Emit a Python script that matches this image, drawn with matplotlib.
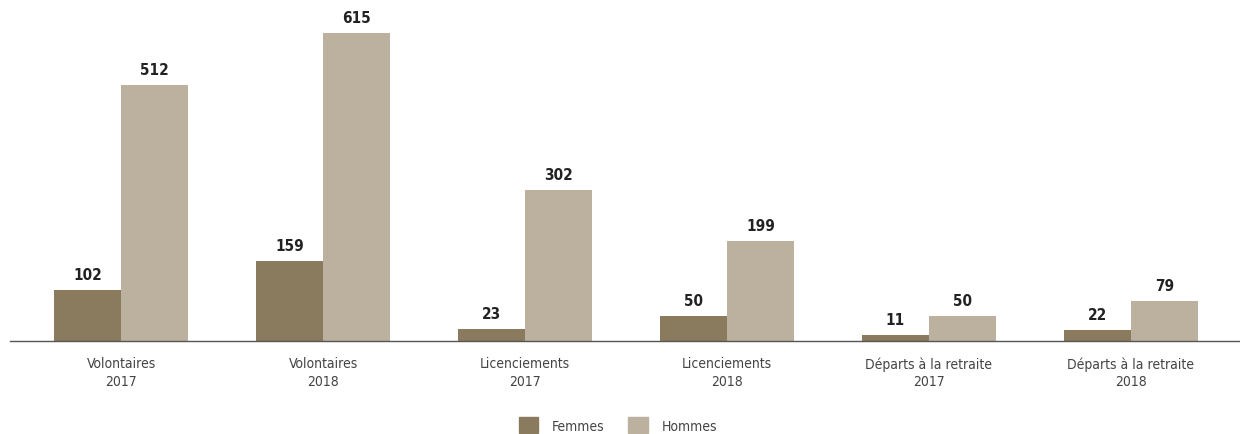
import numpy as np
import matplotlib
matplotlib.use("Agg")
import matplotlib.pyplot as plt
from matplotlib.patches import Patch

# Départs par motif et par sexe
categories = ["Volontaires\n2017", "Volontaires\n2018", "Licenciements\n2017",
              "Licenciements\n2018", "Départs à la retraite\n2017", "Départs à la retraite\n2018"]
femmes = [102, 159, 23, 50, 11, 22]
hommes = [512, 615, 302, 199, 50, 79]

col_f = "#8b7b5e"
col_h = "#bcb09e"

plt.rcParams['font.family'] = ['DejaVu Sans']
plt.rcParams['font.stretch'] = 'condensed'

fig = plt.figure(figsize=(12.4, 4.35), dpi=100)
ax = fig.add_axes([10 / 1240, 93 / 435, 1230 / 1240, 342 / 435])

x = np.arange(len(categories))
w = 0.333
bf = ax.bar(x - w / 2, femmes, w, color=col_f)
bh = ax.bar(x + w / 2, hommes, w, color=col_h)

# valeurs au-dessus des barres
for rects, vals in ((bf, femmes), (bh, hommes)):
    for r, v in zip(rects, vals):
        ax.text(r.get_x() + r.get_width() / 2, v + 16, str(v), ha="center", va="bottom",
                fontsize=11, fontweight="bold", color="#222222")

ax.set_xlim(-0.55, 5.54)
ax.set_ylim(0, 683)
ax.set_yticks([])
ax.set_xticks(x)
ax.set_xticklabels(categories, fontsize=10, color="#444444", linespacing=1.3)
ax.tick_params(axis="x", length=0, pad=11)
for s in ("top", "right", "left"):
    ax.spines[s].set_visible(False)
ax.spines["bottom"].set_color("#555555")
ax.spines["bottom"].set_linewidth(1)

handles = [Patch(color=col_f, label="Femmes"), Patch(color=col_h, label="Hommes")]
fig.legend(handles=handles, loc="center", bbox_to_anchor=(618 / 1240, 1 - 426 / 435), ncol=2,
           frameon=False, fontsize=10, handlelength=1.4, handleheight=1.4,
           columnspacing=1.7, handletextpad=1.0, labelcolor="#444444")

fig.savefig("out.png", dpi=100)
